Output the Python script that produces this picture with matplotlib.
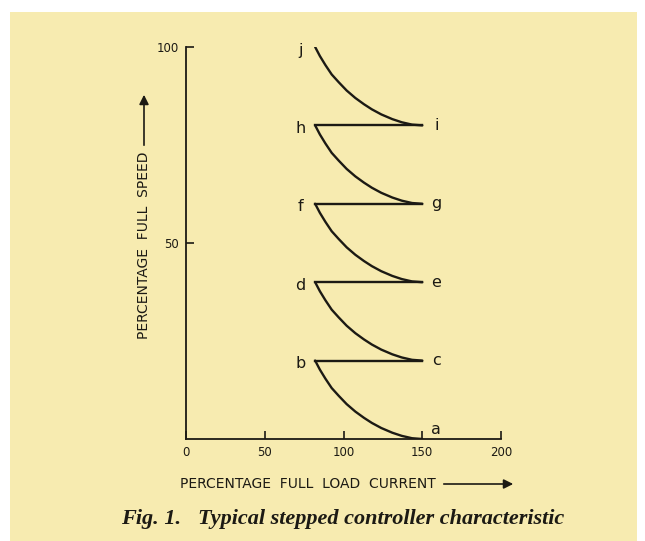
import numpy as np
import matplotlib
matplotlib.use('Agg')
import matplotlib.pyplot as plt
from matplotlib.patches import Rectangle

# step levels (percentage full speed at the top of each step)
step_tops = [100, 80, 60, 40, 20]
# one acceleration curve: current vs drop in speed below the step top
curve_current = [82, 85, 88.5, 92.5, 97, 102, 107.5, 113, 118, 124, 131, 137, 143.5, 150]
curve_drop = [0, 2.3, 4.6, 7.0, 9.0, 11.1, 13.0, 14.6, 15.9, 17.2, 18.4, 19.2, 19.8, 20]
notch_current = [82, 150]   # horizontal jumps (h-i, f-g, d-e, b-c)

left_labels = ['j', 'h', 'f', 'd', 'b']
right_labels = ['i', 'g', 'e', 'c', 'a']
x_ticks = [0, 50, 100, 150, 200]
y_ticks = [50, 100]

ink = '#1c1a14'
paper = '#f7ebb0'

fig = plt.figure(figsize=(6.45, 5.41), dpi=100)
fig.patch.set_facecolor('white')
fig.patches.append(Rectangle((10 / 645, 0), 627 / 645, 1 - 12 / 541,
                             transform=fig.transFigure, facecolor=paper,
                             edgecolor='none', zorder=-10))

ax = fig.add_axes([186 / 645, 1 - 439 / 541, 315 / 645, 392 / 541])
ax.set_facecolor('none')

for i, top in enumerate(step_tops):
    speed = [top - d for d in curve_drop]
    ax.plot(curve_current, speed, color=ink, lw=1.7, solid_capstyle='round')
    if i > 0:
        ax.plot(notch_current, [top, top], color=ink, lw=1.7)
    ax.text(72.5, top - 0.8, left_labels[i], fontsize=11.5, color=ink,
            ha='center', va='center')
    low = top - 20
    ax.text(159, low + (2.5 if low == 0 else 0), right_labels[i], fontsize=11.5,
            color=ink, ha='center', va='center')

ax.set_xlim(0, 200)
ax.set_ylim(0, 100)
for s in ['top', 'right']:
    ax.spines[s].set_visible(False)
for s in ['left', 'bottom']:
    ax.spines[s].set_color(ink)
    ax.spines[s].set_linewidth(1.3)
ax.set_xticks(x_ticks)
ax.set_yticks(y_ticks)
ax.tick_params(axis='both', direction='in', length=6, width=1.2, colors=ink,
               labelsize=8.5, pad=5)

# axis labels with arrows
fig.text(308 / 645, 1 - 484 / 541, 'PERCENTAGE  FULL  LOAD  CURRENT', fontsize=10,
         color=ink, ha='center', va='center')
fig.text(144 / 645, 1 - 245 / 541, 'PERCENTAGE  FULL  SPEED', fontsize=10,
         color=ink, ha='center', va='center', rotation=90)
ax.annotate('', xy=(516 / 645, 1 - 484 / 541), xytext=(441 / 645, 1 - 484 / 541),
            xycoords='figure fraction', textcoords='figure fraction',
            arrowprops=dict(arrowstyle='-|>', color=ink, lw=1.2, mutation_scale=14))
ax.annotate('', xy=(144 / 645, 1 - 92 / 541), xytext=(144 / 645, 1 - 148 / 541),
            xycoords='figure fraction', textcoords='figure fraction',
            arrowprops=dict(arrowstyle='-|>', color=ink, lw=1.2, mutation_scale=14))

fig.text(343 / 645, 1 - 519 / 541, 'Fig. 1.   Typical stepped controller characteristic',
         fontsize=16, fontweight='bold', fontstyle='italic', family='Liberation Serif',
         color=ink, ha='center', va='center')

fig.savefig('out.png', dpi=100)
